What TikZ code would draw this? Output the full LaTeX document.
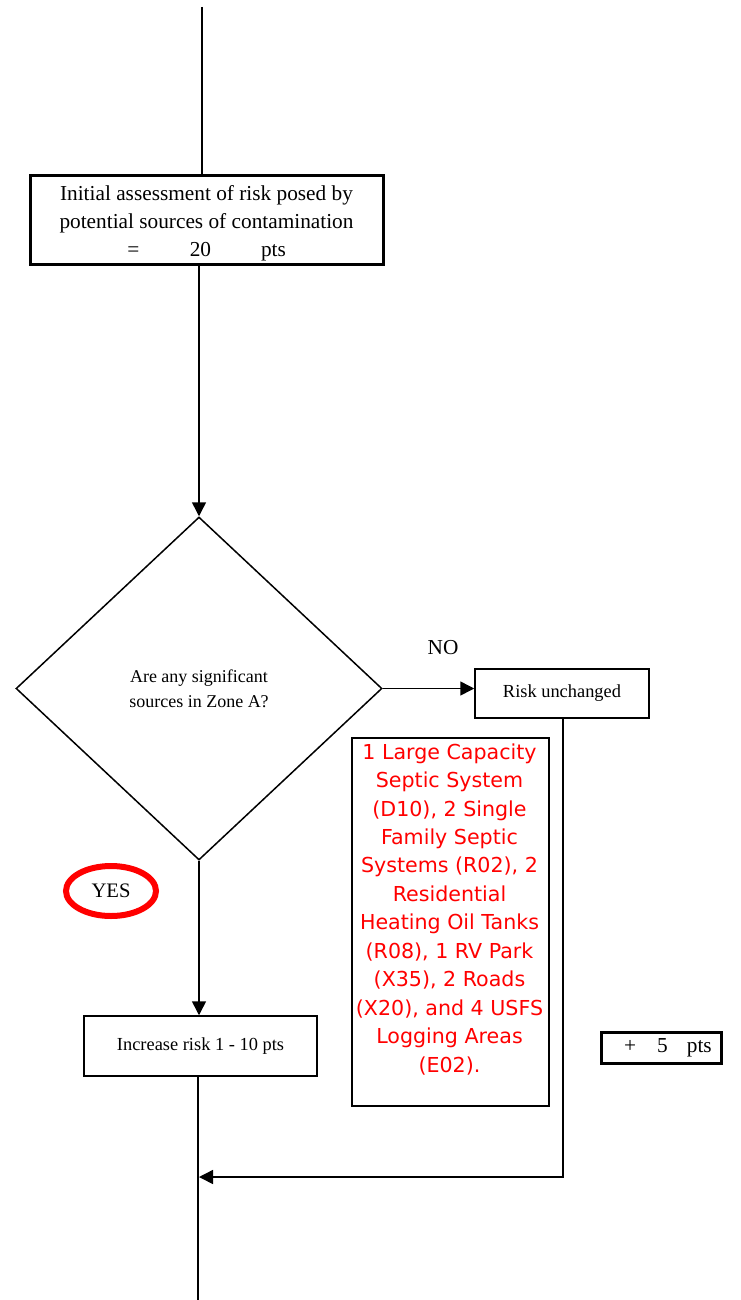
\documentclass[tikz,border=0pt]{standalone}
\usepackage{fontspec}
\setmainfont{Liberation Serif}
\newfontfamily\notefont{DejaVu Sans}
\usetikzlibrary{arrows.meta,shapes.geometric,calc}
\definecolor{notered}{RGB}{255,0,0}
\begin{document}
\begin{tikzpicture}[x=1pt,y=-1pt,
  flow/.style={line width=1.5pt},
  arr/.style={flow,-{Triangle[length=14pt,width=14pt]}},
  thickbox/.style={draw,line width=3pt,inner sep=0pt},
  thinbox/.style={draw,line width=1.5pt,inner sep=0pt},
  serifbig/.style={font=\fontsize{21.3}{28}\selectfont},
  serifmid/.style={font=\fontsize{18.4}{25}\selectfont},
]
\useasboundingbox (0,0) rectangle (740,1300);

% entry line
\coordinate (top) at (202,7);

% initial assessment: frame and its text
\node[thickbox,minimum width=353pt,minimum height=88pt] (init) at (206.5,220) {};
\node[serifbig,align=center,inner sep=0pt] (inittext) at (206.5,223.5)
  {Initial assessment of risk posed by\\potential sources of contamination\\
   \hspace{-6pt}\makebox[0pt]{=}\hspace{67pt}\makebox[0pt]{20}\hspace{73pt}\makebox[0pt]{pts}};

% decision
\node[draw,line width=1.5pt,diamond,minimum width=366pt,minimum height=343pt,inner sep=0pt,
      aspect=1.067,font=\fontsize{18}{25}\selectfont,align=center] (dec) at (199,688.5)
  {Are any significant\\sources in Zone A?};

% NO branch
\node[thinbox,serifmid,minimum width=174pt,minimum height=49pt] (same) at (562,693.5) {Risk unchanged};
\node[serifbig] (no) at (443,648) {NO};

% YES branch
\node[thinbox,serifmid,minimum width=233pt,minimum height=60pt] (inc) at (200.5,1046) {Increase risk 1 - 10 pts};
\node[draw=notered,line width=6pt,ellipse,minimum width=90pt,minimum height=50pt,inner sep=0pt,
      font=\fontsize{20.6}{25}\selectfont] (yes) at (111,891) {YES};

% list of sources
\node[thinbox,minimum width=197pt,minimum height=368pt,anchor=north west] (list) at (351,737) {};
\node[anchor=north,text=notered,align=center,font=\notefont\fontsize{20.6}{28.45}\selectfont] (listtext) at (449.5,740)
  {1 Large Capacity\\Septic System\\(D10), 2 Single\\Family Septic\\Systems (R02), 2\\Residential\\Heating Oil Tanks\\(R08), 1 RV Park\\(X35), 2 Roads\\(X20), and 4 USFS\\Logging Areas\\(E02).};

% score adjustment
\node[thickbox,serifbig,minimum width=120pt,minimum height=31pt] (plus) at (661,1047.5)
  {\hspace{14pt}+\hspace{21pt}5\hspace{19pt}pts};

% merge point and exit
\coordinate (merge) at (199,1177);
\coordinate (bottom) at (198,1300);

\draw[flow] (top) -- (top |- init.north);
\draw[arr] (init.south -| 199,0) -- (dec.north);
\draw[arr] (dec.east) -- (dec.east -| same.west);
\draw[arr] (dec.south) -- (inc.north -| dec.south);
\draw[flow] (inc.south -| 198,0) -- (bottom);
\draw[arr] (same.south -| 563,0) |- (merge);
\end{tikzpicture}
\end{document}
